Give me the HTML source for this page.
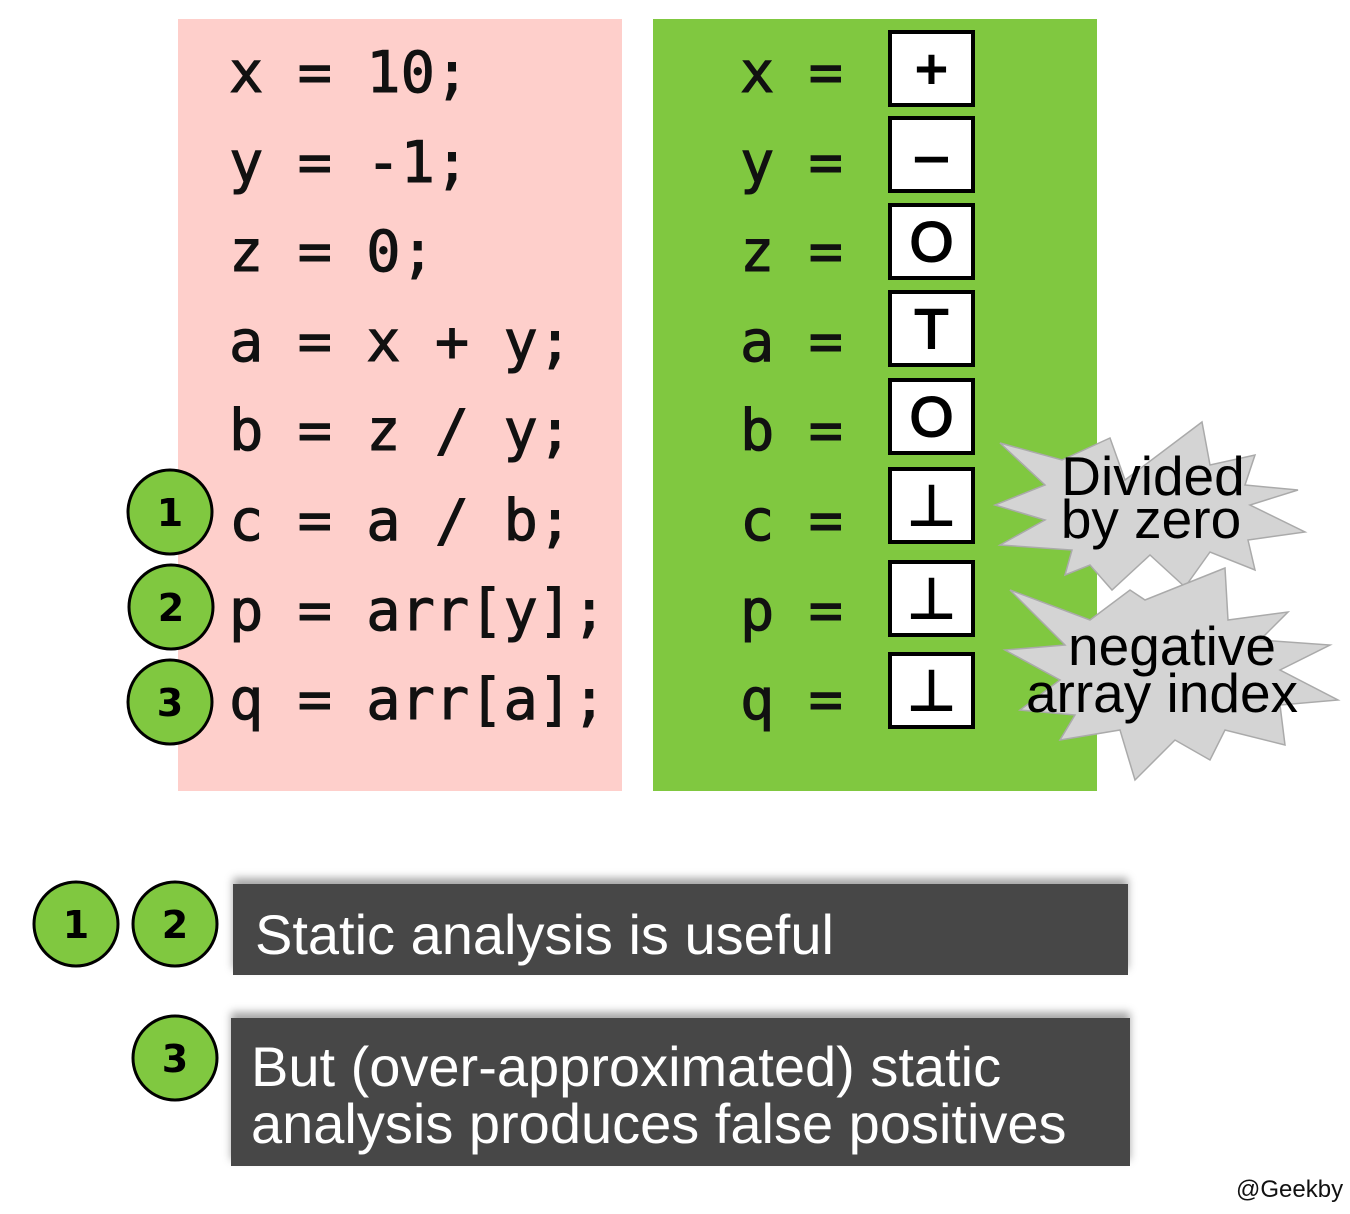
<!DOCTYPE html>
<html><head><style>
body{margin:0;width:1350px;height:1214px;background:#fff;position:relative;overflow:hidden;font-family:"Liberation Sans",sans-serif}
.a{position:absolute}
.code{font-family:"DejaVu Sans Mono","Liberation Mono",monospace;font-size:57px;white-space:pre;color:#111;-webkit-text-stroke:1px #111}
.box{position:absolute;left:888px;width:79px;height:69px;border:4px solid #000;background:#fff;font-size:56px;text-align:center;line-height:69px;color:#000;-webkit-text-stroke:2px #000}
.bar{position:absolute;background:#474747;color:#fff;font-size:55px;box-shadow:0 -6px 8px rgba(0,0,0,0.35)}
</style></head><body>
<div class="a" style="left:178px;top:19px;width:444px;height:772px;background:#fecfcb"></div>
<div class="a" style="left:653px;top:19px;width:444px;height:772px;background:#80c840"></div>
<div class="a code" style="left:229px;top:29px;line-height:89.6px">x = 10;
y = -1;
z = 0;
a = x + y;
b = z / y;
c = a / b;
p = arr[y];
q = arr[a];</div>
<div class="a code" style="left:740px;top:29px;line-height:89.6px">x =
y =
z =
a =
b =
c =
p =
q =</div>
<div class="box" style="top:30px">+</div>
<div class="box" style="top:116px">–</div>
<div class="box" style="top:203px">O</div>
<div class="box" style="top:290px">T</div>
<div class="box" style="top:378px">O</div>
<div class="box" style="top:467px">⊥</div>
<div class="box" style="top:560px">⊥</div>
<div class="box" style="top:652px">⊥</div>
<svg class="a" style="left:0;top:0" width="1350" height="1214">
<polygon fill="#d4d4d4" stroke="#aaa" stroke-width="1.5" points="1000,443 1062,460 1110,438 1125,480 1202,422 1210,465 1255,455 1245,485 1298,490 1250,505 1305,532 1248,540 1255,570 1210,552 1185,587 1150,555 1112,590 1090,565 1065,575 1072,550 1000,545 1045,520 995,505 1045,485"/>
<polygon fill="#d4d4d4" stroke="#aaa" stroke-width="1.5" points="1010,590 1090,620 1130,590 1145,600 1225,568 1228,620 1288,612 1260,640 1330,645 1280,670 1338,700 1280,705 1285,745 1225,730 1210,760 1175,740 1135,780 1120,730 1060,740 1075,715 1020,710 1060,680 1005,650 1065,645"/>
<g stroke="#000" stroke-width="3" fill="#80c840">
<circle cx="170" cy="512" r="42"/><circle cx="171" cy="607" r="42"/><circle cx="170" cy="702" r="42"/>
<circle cx="76" cy="924" r="42"/><circle cx="175" cy="924" r="42"/><circle cx="175" cy="1058" r="42"/>
</g>
<g font-family="DejaVu Sans, sans-serif" font-weight="bold" font-size="38" text-anchor="middle" fill="#000">
<text x="170" y="526">1</text><text x="171" y="621">2</text><text x="170" y="716">3</text>
<text x="76" y="938">1</text><text x="175" y="938">2</text><text x="175" y="1072">3</text>
</g>
<g font-family="Liberation Sans, sans-serif" font-size="55" fill="#000" text-anchor="middle">
<text x="1153" y="495">Divided</text><text x="1151" y="538">by zero</text>
<text x="1172" y="665">negative</text><text x="1162" y="712">array index</text>
</g>
</svg>
<div class="bar" style="left:233px;top:884px;width:895px;height:91px"><div class="a" style="left:22px;top:18px;font-size:56px">Static analysis is useful</div></div>
<div class="bar" style="left:231px;top:1018px;width:899px;height:148px"><div class="a" style="left:20px;top:20px;line-height:57px;font-size:56px">But (over-approximated) static<br>analysis produces false positives</div></div>
<div class="a" style="left:1236px;top:1176px;font-size:24px;color:#111">@Geekby</div>
</body></html>
